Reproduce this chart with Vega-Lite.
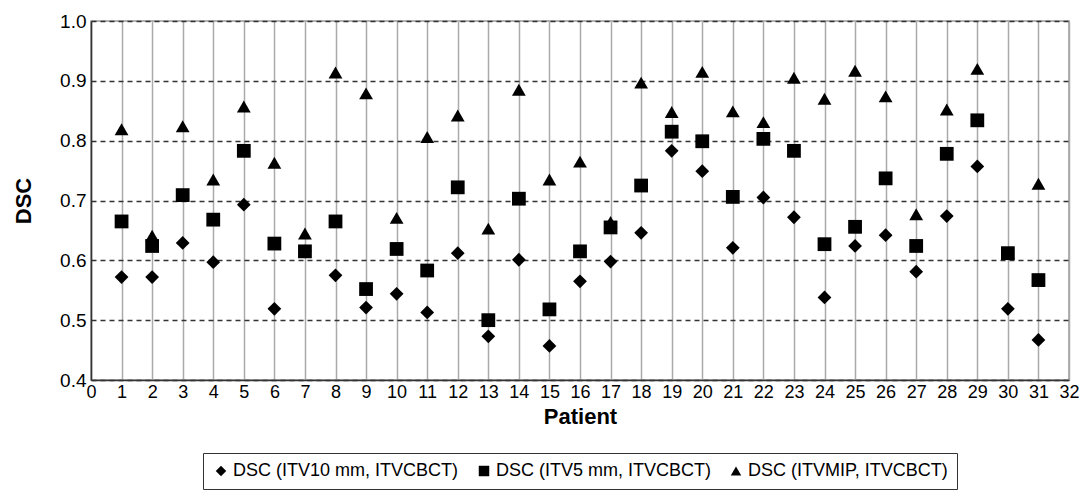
{
  "$schema": "https://vega.github.io/schema/vega-lite/v6.json",
  "autosize": {"type": "none"},
  "padding": {"left": 91, "top": 21, "right": 13, "bottom": 119},
  "width": 978,
  "height": 359,
  "background": "white",
  "config": {
    "font": "Liberation Sans",
    "view": {"stroke": "#999999", "strokeWidth": 1.5},
    "axis": {"labelFont": "Liberation Sans", "titleFont": "Liberation Sans", "labelColor": "black", "titleColor": "black"},
    "legend": {"labelFont": "Liberation Sans", "layout": {"bottom": {"anchor": "middle"}}}
  },
  "data": {
    "values": [
      {"patient": 1, "series": "C", "dsc": 0.819}, {"patient": 1, "series": "B", "dsc": 0.665}, {"patient": 1, "series": "A", "dsc": 0.572},
      {"patient": 2, "series": "C", "dsc": 0.641}, {"patient": 2, "series": "B", "dsc": 0.624}, {"patient": 2, "series": "A", "dsc": 0.572},
      {"patient": 3, "series": "C", "dsc": 0.824}, {"patient": 3, "series": "B", "dsc": 0.709}, {"patient": 3, "series": "A", "dsc": 0.629},
      {"patient": 4, "series": "C", "dsc": 0.735}, {"patient": 4, "series": "B", "dsc": 0.668}, {"patient": 4, "series": "A", "dsc": 0.597},
      {"patient": 5, "series": "C", "dsc": 0.857}, {"patient": 5, "series": "B", "dsc": 0.783}, {"patient": 5, "series": "A", "dsc": 0.693},
      {"patient": 6, "series": "C", "dsc": 0.763}, {"patient": 6, "series": "B", "dsc": 0.628}, {"patient": 6, "series": "A", "dsc": 0.519},
      {"patient": 7, "series": "C", "dsc": 0.645}, {"patient": 7, "series": "B", "dsc": 0.615}, {"patient": 7, "series": "A", "dsc": 0.615},
      {"patient": 8, "series": "C", "dsc": 0.914}, {"patient": 8, "series": "B", "dsc": 0.665}, {"patient": 8, "series": "A", "dsc": 0.575},
      {"patient": 9, "series": "C", "dsc": 0.879}, {"patient": 9, "series": "B", "dsc": 0.552}, {"patient": 9, "series": "A", "dsc": 0.521},
      {"patient": 10, "series": "C", "dsc": 0.671}, {"patient": 10, "series": "B", "dsc": 0.619}, {"patient": 10, "series": "A", "dsc": 0.544},
      {"patient": 11, "series": "C", "dsc": 0.806}, {"patient": 11, "series": "B", "dsc": 0.583}, {"patient": 11, "series": "A", "dsc": 0.513},
      {"patient": 12, "series": "C", "dsc": 0.842}, {"patient": 12, "series": "B", "dsc": 0.722}, {"patient": 12, "series": "A", "dsc": 0.612},
      {"patient": 13, "series": "C", "dsc": 0.653}, {"patient": 13, "series": "B", "dsc": 0.5}, {"patient": 13, "series": "A", "dsc": 0.473},
      {"patient": 14, "series": "C", "dsc": 0.885}, {"patient": 14, "series": "B", "dsc": 0.703}, {"patient": 14, "series": "A", "dsc": 0.601},
      {"patient": 15, "series": "C", "dsc": 0.735}, {"patient": 15, "series": "B", "dsc": 0.518}, {"patient": 15, "series": "A", "dsc": 0.457},
      {"patient": 16, "series": "C", "dsc": 0.765}, {"patient": 16, "series": "B", "dsc": 0.615}, {"patient": 16, "series": "A", "dsc": 0.565},
      {"patient": 17, "series": "C", "dsc": 0.664}, {"patient": 17, "series": "B", "dsc": 0.655}, {"patient": 17, "series": "A", "dsc": 0.598},
      {"patient": 18, "series": "C", "dsc": 0.897}, {"patient": 18, "series": "B", "dsc": 0.725}, {"patient": 18, "series": "A", "dsc": 0.646},
      {"patient": 19, "series": "C", "dsc": 0.848}, {"patient": 19, "series": "B", "dsc": 0.815}, {"patient": 19, "series": "A", "dsc": 0.783},
      {"patient": 20, "series": "C", "dsc": 0.915}, {"patient": 20, "series": "B", "dsc": 0.799}, {"patient": 20, "series": "A", "dsc": 0.749},
      {"patient": 21, "series": "C", "dsc": 0.849}, {"patient": 21, "series": "B", "dsc": 0.706}, {"patient": 21, "series": "A", "dsc": 0.621},
      {"patient": 22, "series": "C", "dsc": 0.831}, {"patient": 22, "series": "B", "dsc": 0.803}, {"patient": 22, "series": "A", "dsc": 0.705},
      {"patient": 23, "series": "C", "dsc": 0.905}, {"patient": 23, "series": "B", "dsc": 0.783}, {"patient": 23, "series": "A", "dsc": 0.672},
      {"patient": 24, "series": "C", "dsc": 0.87}, {"patient": 24, "series": "B", "dsc": 0.627}, {"patient": 24, "series": "A", "dsc": 0.538},
      {"patient": 25, "series": "C", "dsc": 0.917}, {"patient": 25, "series": "B", "dsc": 0.656}, {"patient": 25, "series": "A", "dsc": 0.624},
      {"patient": 26, "series": "C", "dsc": 0.874}, {"patient": 26, "series": "B", "dsc": 0.737}, {"patient": 26, "series": "A", "dsc": 0.642},
      {"patient": 27, "series": "C", "dsc": 0.677}, {"patient": 27, "series": "B", "dsc": 0.624}, {"patient": 27, "series": "A", "dsc": 0.581},
      {"patient": 28, "series": "C", "dsc": 0.852}, {"patient": 28, "series": "B", "dsc": 0.778}, {"patient": 28, "series": "A", "dsc": 0.674},
      {"patient": 29, "series": "C", "dsc": 0.92}, {"patient": 29, "series": "B", "dsc": 0.834}, {"patient": 29, "series": "A", "dsc": 0.757},
      {"patient": 30, "series": "C", "dsc": 0.612}, {"patient": 30, "series": "B", "dsc": 0.612}, {"patient": 30, "series": "A", "dsc": 0.519},
      {"patient": 31, "series": "C", "dsc": 0.728}, {"patient": 31, "series": "B", "dsc": 0.567}, {"patient": 31, "series": "A", "dsc": 0.467}
    ]
  },
  "mark": {"type": "point", "filled": true, "opacity": 1, "strokeWidth": 0, "size": 190},
  "encoding": {
    "x": {
      "field": "patient", "type": "quantitative",
      "scale": {"domain": [0, 32], "nice": false, "zero": false},
      "axis": {
        "title": "Patient", "titleFontSize": 22, "titleFontWeight": "bold", "titlePadding": 5,
        "values": [0,1,2,3,4,5,6,7,8,9,10,11,12,13,14,15,16,17,18,19,20,21,22,23,24,25,26,27,28,29,30,31,32],
        "labelFontSize": 18, "labelPadding": 3, "labelFlush": false, "labelOverlap": false,
        "grid": true, "gridColor": "#aaaaaa", "gridWidth": 1.5,
        "domainColor": "#333333", "domainWidth": 1.5,
        "ticks": false
      }
    },
    "y": {
      "field": "dsc", "type": "quantitative",
      "scale": {"domain": [0.4, 1.0], "nice": false, "zero": false},
      "axis": {
        "title": "DSC", "titleFontSize": 22, "titleFontWeight": "bold", "titlePadding": 24,
        "values": [0.4, 0.5, 0.6, 0.7, 0.8, 0.9, 1.0], "format": ".1f",
        "labelFontSize": 19, "labelPadding": 5, "labelFlush": false,
        "grid": true, "gridColor": "#333333", "gridWidth": 1.5, "gridDash": [5, 4],
        "domainColor": "#333333", "domainWidth": 1.5,
        "ticks": false
      }
    },
    "shape": {
      "field": "series", "type": "nominal",
      "scale": {"domain": ["A", "B", "C"], "range": ["diamond", "square", "triangle-up"]},
      "legend": {
        "title": null, "orient": "bottom", "direction": "horizontal", "offset": 26,
        "labelExpr": "datum.value == 'A' ? 'DSC (ITV10 mm, ITVCBCT)' : datum.value == 'B' ? 'DSC (ITV5 mm, ITVCBCT)' : 'DSC (ITVMIP, ITVCBCT)'",
        "labelFontSize": 18, "labelLimit": 0, "labelColor": "black", "symbolSize": 110, "symbolFillColor": "black", "symbolStrokeColor": "black", "symbolStrokeWidth": 0,
        "strokeColor": "#333333", "padding": 9, "columnPadding": 16, "labelOffset": 3
      }
    },
    "color": {"value": "black"},
    "order": {"field": "series", "sort": "ascending"}
  }
}
